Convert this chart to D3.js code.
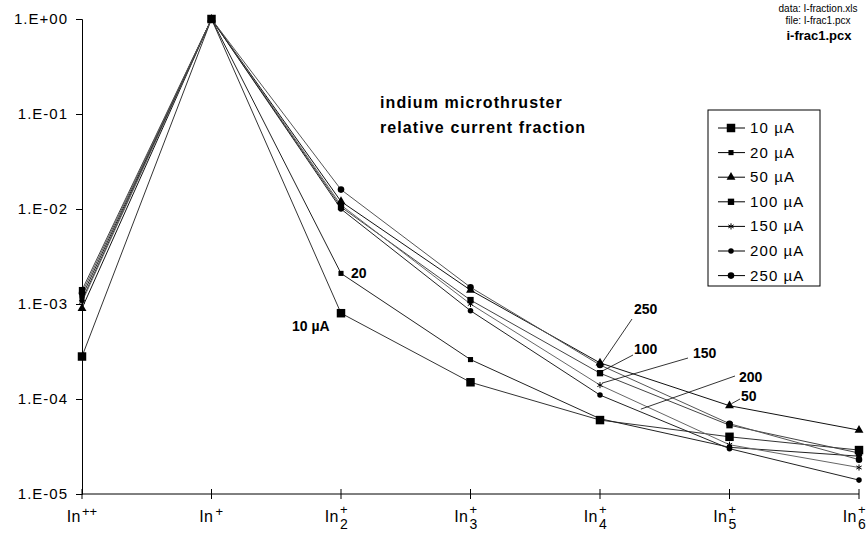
<!DOCTYPE html>
<meta charset="utf-8">
<head>
<style>
  body { margin: 0; background: #fff; }
  text { font-family: "Liberation Sans", Arial, sans-serif; fill: #000; }
</style>
</head>
<body>
<div id="chart"></div>
<script src="https://d3js.org/d3.v7.min.js"></script>
<script>
// categories along the x axis (ion species)
var categories = ["In++", "In+", "In2+", "In3+", "In4+", "In5+", "In6+"];
var catBase = ["In", "In", "In", "In", "In", "In", "In"];
var catSup = ["++", "+", "+", "+", "+", "+", "+"];
var catSub = ["", "", "2", "3", "4", "5", "6"];

// emission currents
var currents = ["10 µA", "20 µA", "50 µA", "100 µA", "150 µA", "200 µA", "250 µA"];

// relative current fraction, one array per current
var frac10 = [2.8e-4, 1, 8.0e-4, 1.5e-4, 6.0e-5, 4.0e-5, 2.9e-5];
var frac20 = [1.1e-3, 1, 2.1e-3, 2.6e-4, 6.2e-5, 3.1e-5, 2.5e-5];
var frac50 = [9.0e-4, 1, 1.2e-2, 1.4e-3, 2.4e-4, 8.5e-5, 4.7e-5];
var frac100 = [1.4e-3, 1, 1.05e-2, 1.1e-3, 1.87e-4, 5.3e-5, 2.7e-5];
var frac150 = [1.05e-3, 1, 1.1e-2, 1.0e-3, 1.4e-4, 3.3e-5, 1.9e-5];
var frac200 = [1.2e-3, 1, 1.0e-2, 8.5e-4, 1.1e-4, 3.0e-5, 1.4e-5];
var frac250 = [1.3e-3, 1, 1.6e-2, 1.5e-3, 2.28e-4, 5.5e-5, 2.3e-5];

var yTicks = [1, 1e-1, 1e-2, 1e-3, 1e-4, 1e-5];
var yTickLabels = ["1.E+00", "1.E-01", "1.E-02", "1.E-03", "1.E-04", "1.E-05"];

var allSeries = [frac10, frac20, frac50, frac100, frac150, frac200, frac250];

var width = 868, height = 535;
var svg = d3.select("#chart")
  .append("svg")
    .attr("width", width)
    .attr("height", height);

var x = d3.scalePoint()
  .domain(categories)
  .range([82, 859]);

var y = d3.scaleLog()
  .domain([1e-5, 1])
  .range([494, 19]);

// marker look per series
var symbols = [
  {type: d3.symbolSquare, size: 72, fill: true},
  {type: d3.symbolSquare, size: 26, fill: true},
  {type: d3.symbolTriangle, size: 34, fill: true},
  {type: d3.symbolSquare, size: 40, fill: true},
  {type: d3.symbolAsterisk, size: 26, fill: false},
  {type: d3.symbolCircle, size: 24, fill: true},
  {type: d3.symbolCircle, size: 34, fill: true}
];
var lineColors = ["#333", "#222", "#111", "#444", "#666", "#222", "#555"];

// Y axis
var yAxis = svg.append("g")
  .attr("transform", "translate(82,0)")
  .call(d3.axisLeft(y).tickValues(yTicks)
    .tickFormat(function(d, i) { return yTickLabels[i]; })
    .tickSize(6).tickPadding(8));
yAxis.select(".domain").attr("stroke", "#000");
yAxis.selectAll("text")
  .style("font-size", "15px")
  .style("letter-spacing", "1px")
  .attr("font-family", "Liberation Sans, Arial, sans-serif");

// X axis line + ticks crossing it
svg.append("line")
  .attr("x1", x.range()[0]).attr("x2", x.range()[1])
  .attr("y1", y(1e-5)).attr("y2", y(1e-5))
  .attr("stroke", "#000");
svg.selectAll("xTicks")
  .data(categories)
  .enter()
  .append("line")
    .attr("x1", function(d) { return x(d); })
    .attr("x2", function(d) { return x(d); })
    .attr("y1", y(1e-5) - 5)
    .attr("y2", y(1e-5) + 5)
    .attr("stroke", "#000");

// x labels: In with super/subscripts
var xl = svg.selectAll("xLabels")
  .data(categories)
  .enter()
  .append("g")
    .attr("transform", function(d) { return "translate(" + x(d) + "," + 522 + ")"; });
xl.append("text")
  .attr("text-anchor", "end")
  .attr("x", function(d, i) { return catSub[i] ? -2 : (i == 0 ? -1 : 2); })
  .style("font-size", "16px")
  .style("letter-spacing", "0.5px")
  .text(function(d, i) { return catBase[i]; });
xl.append("text")
  .attr("x", function(d, i) { return catSub[i] ? -1 : (i == 0 ? 0 : 4); })
  .attr("y", function(d, i) { return catSub[i] ? -8 : -6; })
  .style("font-size", "13px")
  .text(function(d, i) { return catSup[i]; });
xl.append("text")
  .attr("x", -1)
  .attr("y", 7)
  .style("font-size", "14px")
  .text(function(d, i) { return catSub[i]; });

// lines
var line = d3.line()
  .x(function(d, i) { return x(categories[i]); })
  .y(function(d) { return y(d); });
svg.selectAll("myLines")
  .data(allSeries)
  .enter()
  .append("path")
    .attr("d", function(d) { return line(d); })
    .attr("stroke", function(d, i) { return lineColors[i]; })
    .attr("stroke-width", 1)
    .attr("fill", "none");

// points
svg.selectAll("myDots")
  .data(allSeries)
  .enter()
  .append("g")
  .each(function(s, si) {
    var sym = symbols[si];
    d3.select(this).selectAll("path")
      .data(s)
      .enter()
      .append("path")
        .attr("transform", function(d, i) { return "translate(" + x(categories[i]) + "," + y(d) + ")"; })
        .attr("d", d3.symbol().type(sym.type).size(sym.size))
        .attr("fill", sym.fill ? "#000" : "none")
        .attr("stroke", sym.fill ? "none" : "#000")
        .attr("stroke-width", 1);
  });

// title
svg.append("text")
  .attr("x", 380).attr("y", 108)
  .style("font-size", "16px").style("font-weight", "bold")
  .style("letter-spacing", "1.1px")
  .text("indium microthruster");
svg.append("text")
  .attr("x", 380).attr("y", 133)
  .style("font-size", "16px").style("font-weight", "bold")
  .style("letter-spacing", "1.1px")
  .text("relative current fraction");

// file info top right
svg.append("text")
  .attr("x", 818).attr("y", 12)
  .attr("text-anchor", "middle")
  .style("font-size", "10px")
  .text("data: I-fraction.xls");
svg.append("text")
  .attr("x", 818).attr("y", 24)
  .attr("text-anchor", "middle")
  .style("font-size", "10px")
  .text("file: I-frac1.pcx");
svg.append("text")
  .attr("x", 819).attr("y", 40)
  .attr("text-anchor", "middle")
  .style("font-size", "13px").style("font-weight", "bold")
  .text("i-frac1.pcx");

// legend
var legend = svg.append("g");
legend.append("rect")
  .attr("x", 708).attr("y", 110)
  .attr("width", 112).attr("height", 176)
  .attr("fill", "#fff").attr("stroke", "#000");
var items = legend.selectAll("legItems")
  .data(currents)
  .enter()
  .append("g")
    .attr("transform", function(d, i) { return "translate(0," + (128 + i * 24.6) + ")"; });
items.append("line")
  .attr("x1", 718).attr("x2", 745)
  .attr("stroke", "#000");
items.append("path")
  .attr("transform", "translate(731,0)")
  .attr("d", function(d, i) { return d3.symbol().type(symbols[i].type).size(symbols[i].size)(); })
  .attr("fill", function(d, i) { return symbols[i].fill ? "#000" : "none"; })
  .attr("stroke", function(d, i) { return symbols[i].fill ? "none" : "#000"; });
items.append("text")
  .attr("x", 750).attr("y", 5)
  .style("font-size", "15px")
  .style("letter-spacing", "1.1px")
  .text(function(d) { return d; });

// callout labels
svg.append("text")
  .attr("x", x(categories[2]) + 10).attr("y", y(frac20[2]) + 5)
  .style("font-size", "14px").style("font-weight", "bold")
  .text("20");
svg.append("text")
  .attr("x", x(categories[2]) - 49).attr("y", y(frac10[2]) + 18)
  .style("font-size", "14px").style("font-weight", "bold")
  .text("10 µA");

var callouts = [
  {label: "250", tx: 634, ty: 314, lx: 632, ly: 319, s: frac250, i: 4, f: 0},
  {label: "100", tx: 634, ty: 354, lx: 633, ly: 355, s: frac100, i: 4, f: 0},
  {label: "150", tx: 693, ty: 358, lx: 688, ly: 358, s: frac150, i: 4, f: 0},
  {label: "200", tx: 739, ty: 382, lx: 735, ly: 376, s: frac200, i: 4, f: 0.3},
  {label: "50", tx: 741, ty: 401, lx: 740, ly: 399, s: frac50, i: 5, f: 0}
];
callouts.forEach(function(c) {
  var px = x(categories[c.i]) + c.f * (x(categories[c.i + 1]) - x(categories[c.i]));
  var py = y(c.s[c.i]) + c.f * (y(c.s[c.i + 1]) - y(c.s[c.i]));
  svg.append("line")
    .attr("x1", c.lx).attr("y1", c.ly)
    .attr("x2", px + 2).attr("y2", py - 2)
    .attr("stroke", "#000").attr("stroke-width", 0.8);
  svg.append("text")
    .attr("x", c.tx).attr("y", c.ty)
    .style("font-size", "14px").style("font-weight", "bold")
    .text(c.label);
});
</script>
</body>
